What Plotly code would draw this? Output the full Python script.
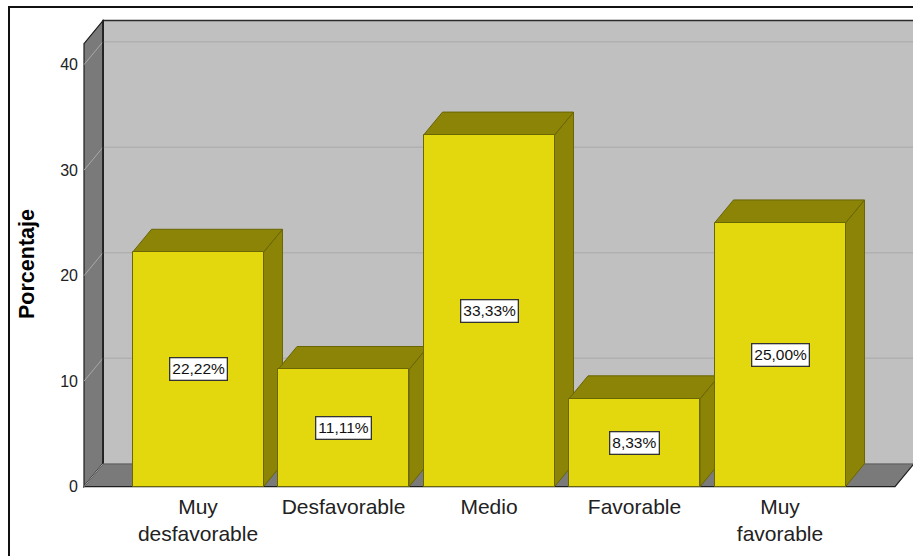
import plotly.graph_objects as go

# ---- data -------------------------------------------------------------
categorias = ["Muy desfavorable", "Desfavorable", "Medio", "Favorable", "Muy favorable"]
etiquetas_eje = ["Muy<br>desfavorable", "Desfavorable", "Medio", "Favorable", "Muy<br>favorable"]
porcentajes = [22.22, 11.11, 33.33, 8.33, 25.00]
etiquetas = ["22,22%", "11,11%", "33,33%", "8,33%", "25,00%"]
ticks_y = [0, 10, 20, 30, 40]

# ---- geometry of the pseudo-3D frame ---------------------------------
W, H = 913, 556
PX_CAT = 145.5          # pixels per category slot
PX_UNIT = 10.55         # pixels per percentage unit
CX0, CY0 = 198.0, 486.7 # pixel position of category 0 / value 0
PL, PR, PT, PB = 81, 913, 17, 489   # plot area box in pixels

x_range = [(PL - CX0) / PX_CAT, (PR - CX0) / PX_CAT]
y_range = [(CY0 - PB) / PX_UNIT, (CY0 - PT) / PX_UNIT]

DX = 19 / PX_CAT        # depth offset (x)
DY = 23 / PX_UNIT       # depth offset (y)
BW = 131 / PX_CAT       # bar width
XL = (84 - CX0) / PX_CAT
XR = (895 - CX0) / PX_CAT
Y_MAX = 42.0

FRONT = "#E3D70E"
SHADE = "#8B8407"
EDGE = "#6A6505"
WALL = "#7A7A7A"
BACK = "#C0C0C0"
FONT = "Arial, Liberation Sans, sans-serif"


def px_x(p):
    return (p - PL) / (PR - PL)


def px_y(p):
    return (PB - p) / (PB - PT)


def poly(pts):
    return "M " + " L ".join(f"{x},{y}" for x, y in pts) + " Z"


shapes = []
# back wall
shapes.append(dict(type="rect", xref="x", yref="y", layer="below",
                   x0=XL + DX, x1=XR + DX, y0=DY, y1=Y_MAX + DY,
                   fillcolor=BACK, line=dict(color="#2a2a2a", width=1.5)))
# back-wall grid lines
for v in ticks_y[1:]:
    shapes.append(dict(type="line", xref="x", yref="y", layer="below",
                       x0=XL + DX, x1=XR + DX, y0=v + DY, y1=v + DY,
                       line=dict(color="#B0B0B0", width=1.5)))
# left wall
shapes.append(dict(type="path", xref="x", yref="y", layer="below",
                   path=poly([(XL, 0), (XL, Y_MAX), (XL + DX, Y_MAX + DY), (XL + DX, DY)]),
                   fillcolor=WALL, line=dict(color="#1e1e1e", width=1.2)))
# floor
shapes.append(dict(type="path", xref="x", yref="y", layer="below",
                   path=poly([(XL, 0), (XR, 0), (XR + DX, DY), (XL + DX, DY)]),
                   fillcolor=WALL, line=dict(color="#1e1e1e", width=1.2)))
# seam between floor and back wall
shapes.append(dict(type="line", xref="x", yref="y", layer="below",
                   x0=XL + DX, x1=XR + DX, y0=DY, y1=DY,
                   line=dict(color="#9a9a9a", width=1)))
# left-wall grid lines
for v in ticks_y:
    shapes.append(dict(type="line", xref="x", yref="y", layer="below",
                       x0=XL, x1=XL + DX, y0=v, y1=v + DY,
                       line=dict(color="#A8A8A8", width=1)))
# back edge of the left wall
shapes.append(dict(type="line", xref="x", yref="y", layer="below",
                   x0=XL + DX, x1=XL + DX, y0=DY, y1=Y_MAX + DY,
                   line=dict(color="#1e1e1e", width=1.5)))

# top and side faces of each bar
for i, v in enumerate(porcentajes):
    xa, xb = i - BW / 2, i + BW / 2
    shapes.append(dict(type="path", xref="x", yref="y", layer="below",
                       path=poly([(xb, 0), (xb + DX, DY), (xb + DX, v + DY), (xb, v)]),
                       fillcolor=SHADE, line=dict(color=EDGE, width=1)))
    shapes.append(dict(type="path", xref="x", yref="y", layer="below",
                       path=poly([(xa, v), (xb, v), (xb + DX, v + DY), (xa + DX, v + DY)]),
                       fillcolor=SHADE, line=dict(color=EDGE, width=1)))

# outer frame
shapes.append(dict(type="path", xref="paper", yref="paper", layer="above",
                   path=f"M {px_x(9)},{px_y(560)} L {px_x(9)},{px_y(7)} L {px_x(916)},{px_y(7)}",
                   line=dict(color="#111111", width=2)))

fig = go.Figure()
fig.add_trace(go.Bar(
    x=list(range(len(categorias))), y=porcentajes, width=BW,
    marker=dict(color=FRONT, line=dict(color=EDGE, width=1)),
    hovertext=categorias, hoverinfo="text+y", showlegend=False,
))

annotations = []
for i, (v, t) in enumerate(zip(porcentajes, etiquetas)):
    annotations.append(dict(x=i, y=v / 2, xref="x", yref="y", text=t, showarrow=False,
                            font=dict(family=FONT, size=15.5, color="#111111"),
                            bgcolor="#FFFFFF", bordercolor="#333333", borderwidth=1.3,
                            borderpad=2))
annotations.append(dict(x=px_x(27), y=px_y(264), xref="paper", yref="paper",
                        text="<b>Porcentaje</b>", textangle=-90, showarrow=False,
                        xanchor="center", yanchor="middle",
                        font=dict(family=FONT, size=21.5, color="#000000")))

fig.update_layout(
    width=W, height=H,
    margin=dict(l=PL, r=W - PR, t=PT, b=H - PB, pad=0),
    paper_bgcolor="#FFFFFF", plot_bgcolor="#FFFFFF",
    shapes=shapes, annotations=annotations,
    bargap=0,
    xaxis=dict(range=x_range, tickmode="array", tickvals=list(range(len(etiquetas_eje))),
               ticktext=etiquetas_eje, showgrid=False, zeroline=False, showline=False,
               ticks="", tickfont=dict(family=FONT, size=21, color="#222222"),
               ticklabelstandoff=3, fixedrange=True),
    yaxis=dict(range=y_range, tickmode="array", tickvals=ticks_y,
               showgrid=False, zeroline=False, showline=False, ticks="",
               tickfont=dict(family=FONT, size=16, color="#222222"),
               ticklabelstandoff=2, fixedrange=True),
)

fig.write_html("out.html")
